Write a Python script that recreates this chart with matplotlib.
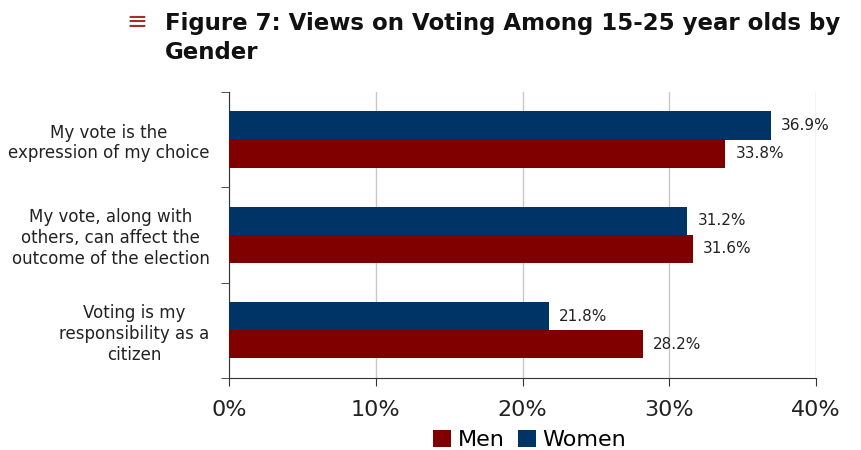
import numpy as np
import matplotlib.pyplot as plt
from matplotlib.ticker import FixedLocator

# data (top to bottom)
categories = ['My vote is the\nexpression of my choice',
              'My vote, along with\nothers, can affect the\noutcome of the election',
              'Voting is my\nresponsibility as a\ncitizen']
women = [36.9, 31.2, 21.8]
men = [33.8, 31.6, 28.2]
xticks = [0, 10, 20, 30, 40]

men_color = '#800000'
women_color = '#003366'

fig = plt.figure(figsize=(8.61, 4.5), dpi=100)
ax = fig.add_axes([0.266, 0.16, 0.682, 0.636])

y = np.arange(len(categories))[::-1]  # first category on top
h = 0.295
bw = ax.barh(y + h / 2, women, height=h, color=women_color, label='Women', zorder=3)
bm = ax.barh(y - h / 2, men, height=h, color=men_color, label='Men', zorder=3)

for bars, vals in [(bw, women), (bm, men)]:
    for b, v in zip(bars, vals):
        ax.text(v + 0.7, b.get_y() + b.get_height() / 2, f'{v:.1f}%',
                va='center', ha='left', fontsize=11, color='#222222')

ax.set_xlim(0, 40)
ax.set_ylim(-0.5, 2.5)
ax.set_xticks(xticks)
ax.set_xticklabels([f'{t}%' for t in xticks], fontsize=16, color='#222222')
ax.xaxis.grid(True, color='#c8c8c8', linewidth=1, zorder=0)

# category labels in the middle, ticks at the group boundaries
ax.set_yticks(y)
ax.set_yticklabels(categories, fontsize=12, multialignment='center', color='#222222')
ax.tick_params(axis='y', length=0, pad=14)
ax.yaxis.set_minor_locator(FixedLocator([-0.5, 0.5, 1.5, 2.5]))
ax.tick_params(axis='y', which='minor', length=6, direction='out', color='#333333')
ax.tick_params(axis='x', length=6, direction='out', color='#333333', pad=10)

for s in ['top', 'right']:
    ax.spines[s].set_visible(False)
ax.spines['left'].set_color('#333333')
ax.spines['bottom'].set_color('#333333')

handles = [bm, bw]
fig.legend(handles, ['Men', 'Women'], loc='center', bbox_to_anchor=(0.615, 0.022),
           ncol=2, frameon=False, fontsize=16, handlelength=0.8, handleheight=0.8,
           handletextpad=0.3, columnspacing=0.6, borderpad=0.1)

fig.text(0.147, 0.952, '\u2261', color='#a0302a', fontsize=18, ha='left', va='center')
fig.text(0.192, 0.973, 'Figure 7: Views on Voting Among 15-25 year olds by\nGender',
         fontsize=16.5, fontweight='bold', ha='left', va='top', linespacing=1.3,
         color='#111111')

fig.savefig('out.png', dpi=100)
